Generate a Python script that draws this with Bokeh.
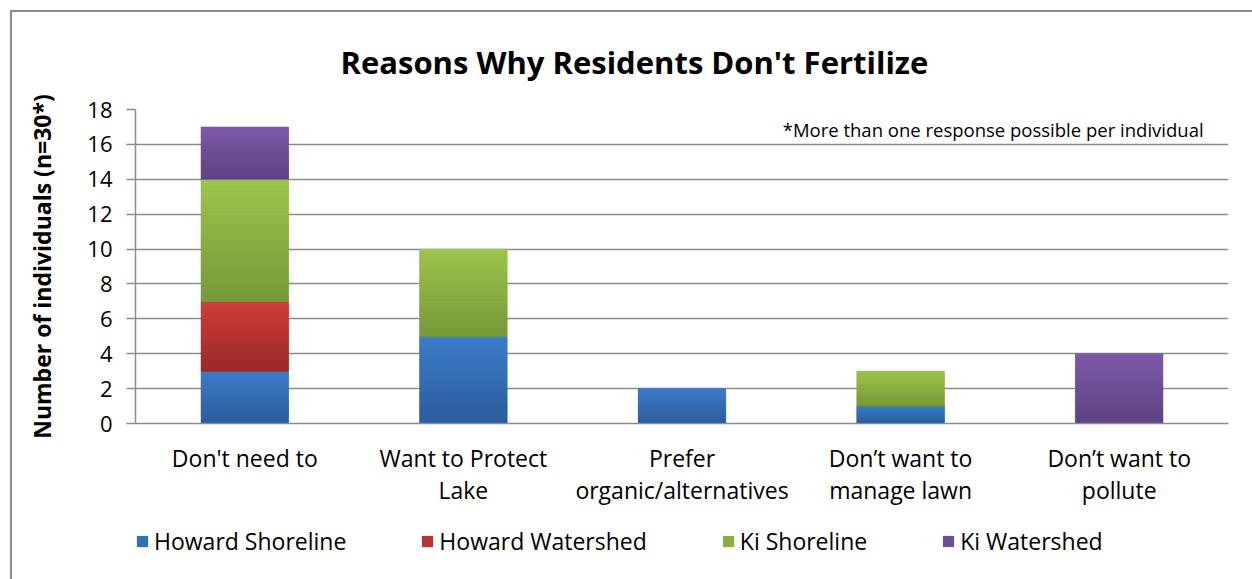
import numpy as np
from bokeh.plotting import figure
from bokeh.layouts import column
from bokeh.models import Range1d, Legend, LegendItem, Label, FixedTicker
from bokeh.embed import file_html
from bokeh.resources import INLINE

categories = ["Don't need to", "Want to Protect\nLake", "Prefer\norganic/alternatives",
              "Don\u2019t want to\nmanage lawn", "Don\u2019t want to\npollute"]
series = ["Howard Shoreline", "Howard Watershed", "Ki Shoreline", "Ki Watershed"]
howard_shoreline = [3, 5, 2, 1, 0]
howard_watershed = [4, 0, 0, 0, 0]
ki_shoreline = [7, 5, 0, 2, 0]
ki_watershed = [3, 0, 0, 0, 4]
y_ticks = [0, 2, 4, 6, 8, 10, 12, 14, 16, 18]
colors = ["#3470B8", "#B73532", "#8AAF43", "#6F4E96"]
colors_top = ["#3B7DCB", "#CF3E3B", "#9DC54B", "#7F5AA9"]
colors_bottom = ["#2C5C9B", "#992A28", "#77983A", "#5E4281"]

FONT = "Open Sans"
GRID = "#8C8C8C"

data = {"cat": categories, "Howard Shoreline": howard_shoreline,
        "Howard Watershed": howard_watershed, "Ki Shoreline": ki_shoreline,
        "Ki Watershed": ki_watershed}

p = figure(width=1240, height=503, x_range=categories, y_range=Range1d(0, 18),
           output_backend="svg", toolbar_location=None,
           min_border_left=123, min_border_right=24, min_border_top=97, min_border_bottom=92)

p.vbar_stack(series, x="cat", width=0.4, source=data, color=colors, line_color=None)

# gradient shading of each stacked segment (light at top, dark at bottom)
def hex2rgb(h):
    return np.array([int(h[i:i + 2], 16) for i in (1, 3, 5)], dtype=float)

values = [howard_shoreline, howard_watershed, ki_shoreline, ki_watershed]
base = np.zeros(len(categories))
N = 30
for vals, ct, cb in zip(values, colors_top, colors_bottom):
    vals = np.array(vals, dtype=float)
    top_rgb, bot_rgb = hex2rgb(ct), hex2rgb(cb)
    xs, b0, t0, fc = [], [], [], []
    for j, v in enumerate(vals):
        if v <= 0:
            continue
        for k in range(N):
            f = (k + 0.5) / N
            rgb = bot_rgb + (top_rgb - bot_rgb) * f
            xs.append(categories[j])
            b0.append(base[j] + v * k / N)
            t0.append(base[j] + v * (k + 1) / N)
            fc.append("#%02x%02x%02x" % tuple(int(round(c)) for c in rgb))
    if xs:
        p.vbar(x=xs, bottom=b0, top=t0, width=0.4, fill_color=fc, line_color=fc, line_width=0.6)
    base += vals

p.title.text = "Reasons Why Residents Don't Fertilize"
p.title.text_font = FONT
p.title.text_font_size = "31px"
p.title.text_font_style = "bold"
p.title.text_color = "black"
p.title.align = "left"
p.title.offset = 205
p.title.standoff = 53

p.outline_line_color = None
p.xgrid.grid_line_color = None
p.ygrid.grid_line_color = GRID
p.ygrid.grid_line_width = 1.5
p.yaxis.ticker = FixedTicker(ticks=y_ticks)

for ax in (p.xaxis[0], p.yaxis[0]):
    ax.axis_line_color = GRID
    ax.axis_line_width = 1.5
    ax.major_tick_line_color = GRID
    ax.major_tick_line_width = 1.5
    ax.minor_tick_line_color = None
    ax.major_label_text_font = FONT
    ax.major_label_text_font_size = "22px"
    ax.major_label_text_color = "black"

p.xaxis.major_label_text_font_size = "23px"
p.yaxis.major_tick_out = 9
p.yaxis.major_tick_in = 0
p.yaxis.major_label_standoff = 14
p.yaxis.axis_label = "Number of individuals (n=30*)"
p.yaxis.axis_label_text_font = FONT
p.yaxis.axis_label_text_font_size = "23px"
p.yaxis.axis_label_text_font_style = "bold"
p.yaxis.axis_label_text_color = "black"
p.yaxis.axis_label_standoff = 26

p.xaxis.major_tick_line_color = None
p.xaxis.major_label_standoff = 12
p.xaxis.major_label_text_line_height = 1.0

note = Label(x=4.886, y=16.85, text="*More than one response possible per individual",
             text_font=FONT, text_font_size="18.5px", text_align="right",
             text_baseline="middle", text_color="black")
p.add_layout(note)

# legend strip below the chart (its series renderers are hidden; only the legend shows)
leg = figure(width=1240, height=64, x_range=categories, y_range=Range1d(0, 18),
             output_backend="svg", toolbar_location=None,
             x_axis_location=None, y_axis_location=None,
             min_border_left=0, min_border_right=0, min_border_top=0, min_border_bottom=0)
leg_renderers = leg.vbar_stack(series, x="cat", width=0.4, source=data, color=colors, line_color=None)
for r in leg_renderers:
    r.visible = False
leg.grid.visible = False
leg.outline_line_color = None

legend = Legend(items=[LegendItem(label=s, renderers=[r]) for s, r in zip(series, leg_renderers)],
                orientation="horizontal", location=(0, 22))
legend.label_text_font = FONT
legend.label_text_font_size = "23px"
legend.label_text_color = "black"
legend.glyph_width = 14
legend.glyph_height = 14
legend.label_standoff = 5
legend.spacing = 74
legend.padding = 0
legend.margin = 0
legend.border_line_color = None
legend.background_fill_alpha = 0
legend.inactive_fill_alpha = 0
leg.add_layout(legend)

layout = column(p, leg, spacing=0)
layout.margin = (10, 0, 0, 10)
layout.styles = {"border-left": "2px solid #8C8C8C", "border-top": "2px solid #8C8C8C"}

open("out.html", "w").write(file_html(layout, INLINE))
